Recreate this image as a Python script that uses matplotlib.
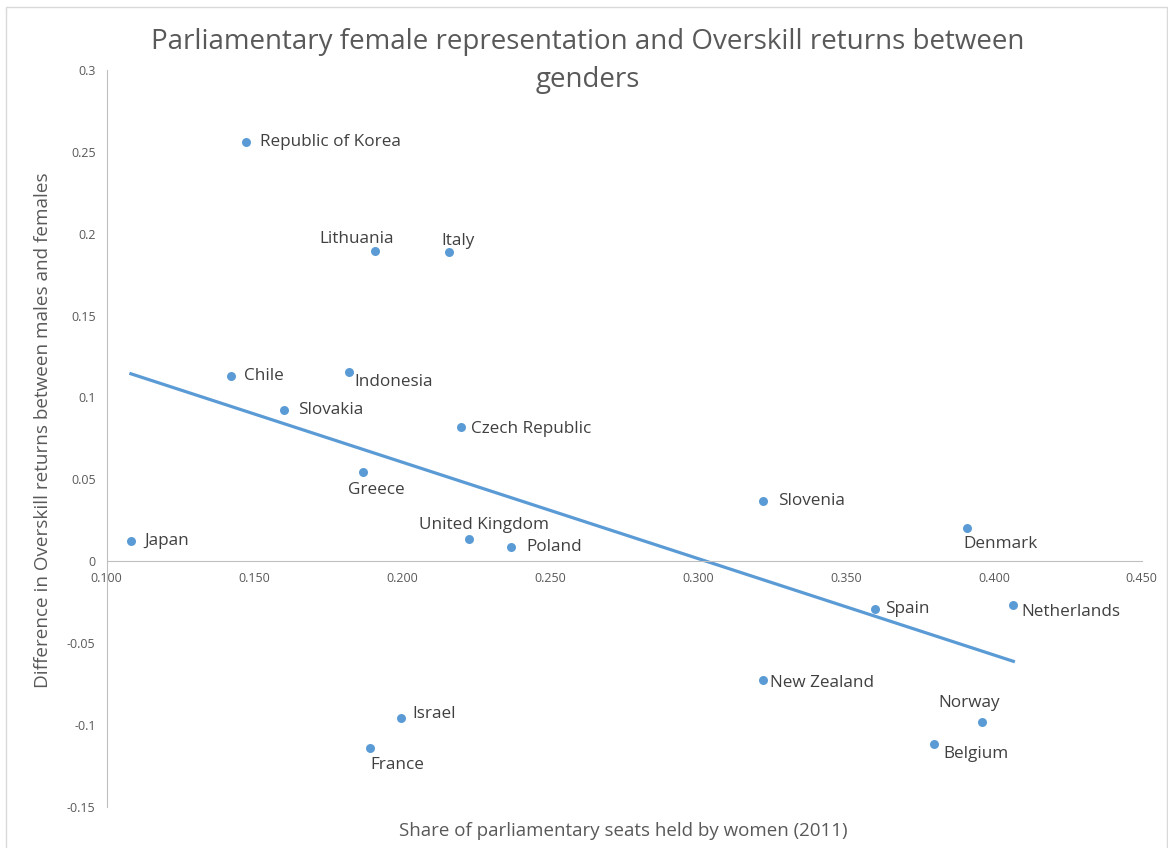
import matplotlib.pyplot as plt
import numpy as np
from matplotlib.patches import Rectangle
from matplotlib.ticker import FuncFormatter

countries = ['Japan', 'Republic of Korea', 'Chile', 'Slovakia', 'Indonesia',
             'Lithuania', 'Italy', 'Greece', 'Czech Republic', 'United Kingdom',
             'Poland', 'Slovenia', 'Denmark', 'Spain', 'Netherlands',
             'New Zealand', 'Norway', 'Belgium', 'Israel', 'France']
women_share = [0.1082, 0.1471, 0.1419, 0.1601, 0.1820,
               0.1907, 0.2159, 0.1868, 0.2198, 0.2225,
               0.2368, 0.3218, 0.3910, 0.3599, 0.4066,
               0.3218, 0.3959, 0.3799, 0.1995, 0.1890]
overskill_diff = [0.0122, 0.2558, 0.1130, 0.0921, 0.1155,
                  0.1896, 0.1888, 0.0546, 0.0819, 0.0134,
                  0.0086, 0.0365, 0.0202, -0.0295, -0.0267,
                  -0.0727, -0.0985, -0.1120, -0.0959, -0.1140]
x_ticks = [0.10, 0.15, 0.20, 0.25, 0.30, 0.35, 0.40, 0.45]
y_ticks = [-0.15, -0.1, -0.05, 0, 0.05, 0.1, 0.15, 0.2, 0.25, 0.3]

# label placement in pixels (dx, dy down-positive, horizontal alignment)
label_pos = {
    'Japan': (13, 0, 'left'), 'Republic of Korea': (14, 0, 'left'),
    'Chile': (13, 0, 'left'), 'Slovakia': (14, 0, 'left'),
    'Indonesia': (5, 10, 'left'), 'Lithuania': (-18, -12, 'center'),
    'Italy': (9, -11, 'center'), 'Greece': (13, 18, 'center'),
    'Czech Republic': (10, 2, 'left'), 'United Kingdom': (15, -14, 'center'),
    'Poland': (15, 0, 'left'), 'Slovenia': (15, 0, 'left'),
    'Denmark': (33, 16, 'center'), 'Spain': (10, 0, 'left'),
    'Netherlands': (8, 7, 'left'), 'New Zealand': (7, 3, 'left'),
    'Norway': (-13, -19, 'center'), 'Belgium': (9, 10, 'left'),
    'Israel': (11, -4, 'left'), 'France': (27, 17, 'center'),
}

blue = '#5B9BD5'
grey = '#595959'
plt.rcParams['font.family'] = ['Open Sans', 'DejaVu Sans']

fig = plt.figure(figsize=(11.68, 8.48), dpi=100)
ax = fig.add_axes([0.0913, 0.0487, 0.8862, 0.8688])
fig.patches.append(Rectangle((0.005, -0.01), 0.994, 1.002, transform=fig.transFigure,
                             fill=False, edgecolor='#d9d9d9', linewidth=1))

ax.scatter(women_share, overskill_diff, s=42, color=blue, zorder=3, linewidths=0)

coef = np.polyfit(women_share, overskill_diff, 1)
xs = np.array([min(women_share), max(women_share)])
ax.plot(xs, np.polyval(coef, xs), color=blue, linewidth=2.3, zorder=2)

for name, x, y in zip(countries, women_share, overskill_diff):
    dx, dy, ha = label_pos[name]
    ax.annotate(name, (x, y), xytext=(dx * 0.72, -dy * 0.72), textcoords='offset points',
                ha=ha, va='center', fontsize=12.3, color='#404040')

ax.set_xlim(0.1, 0.45)
ax.set_ylim(-0.15, 0.3)
ax.set_xticks(x_ticks)
ax.set_yticks(y_ticks)
ax.xaxis.set_major_formatter(FuncFormatter(lambda v, p: f'{v:.3f}'))
ax.yaxis.set_major_formatter(FuncFormatter(lambda v, p: f'{v:g}'))
ax.tick_params(length=0, labelsize=9, labelcolor=grey, pad=8)

for s in ['top', 'right']:
    ax.spines[s].set_visible(False)
ax.spines['bottom'].set_position(('data', 0))
ax.spines['bottom'].set_color('#bfbfbf')
ax.spines['left'].set_color('#bfbfbf')

fig.text(0.503, 0.928, 'Parliamentary female representation and Overskill returns between\ngenders',
         ha='center', va='center', fontsize=20, color=grey, linespacing=1.5)
fig.text(0.037, 0.493, 'Difference in Overskill returns between males and females',
         rotation=90, ha='center', va='center', fontsize=13.6, color=grey)
fig.text(0.534, 0.02, 'Share of parliamentary seats held by women (2011)',
         ha='center', va='center', fontsize=13.5, color=grey)

fig.savefig('out.png', dpi=100)
